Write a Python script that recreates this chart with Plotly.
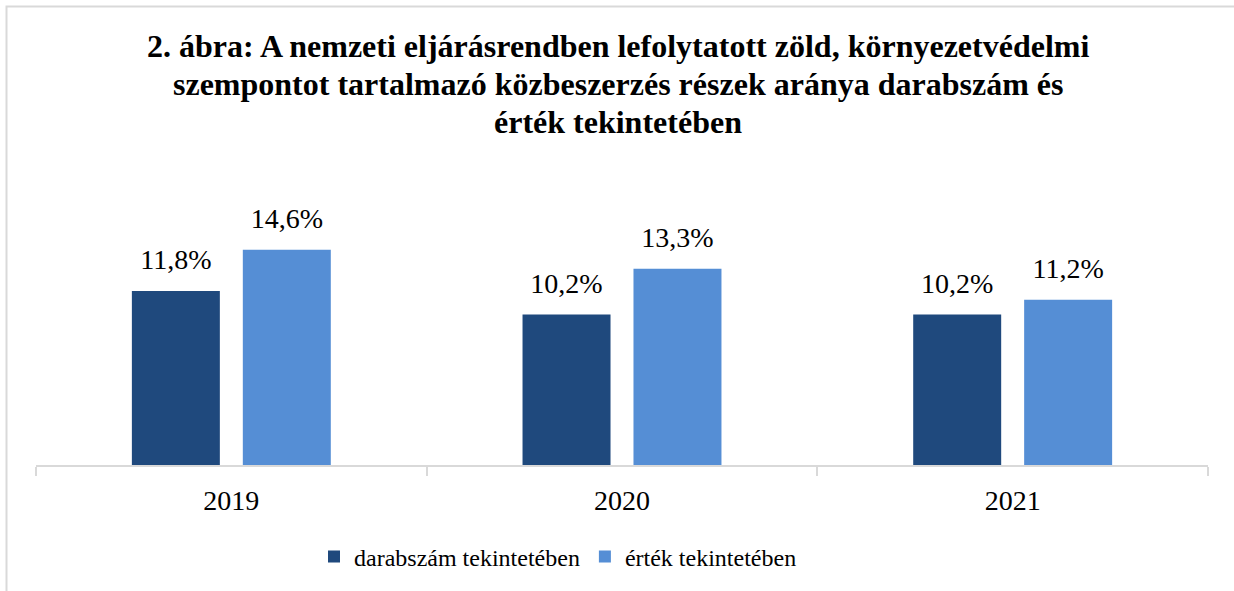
import plotly.graph_objects as go

years = ["2019", "2020", "2021"]
darab = [11.8, 10.2, 10.2]
ertek = [14.6, 13.3, 11.2]
series_names = ["darabszám tekintetében", "érték tekintetében"]
colors = ["#1F497D", "#558ED5"]
title_lines = [
    "2. ábra: A nemzeti eljárásrendben lefolytatott zöld, környezetvédelmi",
    "szempontot tartalmazó közbeszerzés részek aránya darabszám és",
    "érték tekintetében",
]

FONT = "Liberation Serif, Times New Roman, serif"
L, R, T, B = 36, 26, 229, 126
W, H = 1234, 591
pw, ph = W - L - R, H - T - B
GAP = 0.432


def lab(vals):
    return [f"{v:.1f}%".replace(".", ",") for v in vals]


fig = go.Figure()
for name, vals, col in zip(series_names, [darab, ertek], colors):
    fig.add_trace(go.Bar(x=years, y=vals, name=name, marker_color=col, marker_line_width=0,
                         offsetgroup=name, hoverinfo="skip"))
for name, vals in zip(series_names, [darab, ertek]):
    fig.add_trace(go.Scatter(x=years, y=vals, mode="markers+text", text=lab(vals),
                             textposition="top center", offsetgroup=name, showlegend=False,
                             marker=dict(size=22, opacity=0), cliponaxis=False, hoverinfo="skip",
                             textfont=dict(family=FONT, size=28, color="black")))

ann = []
for i, line in enumerate(title_lines):
    ypix = 46 + 38 * i
    ann.append(dict(text=f"<b>{line}</b>", xref="paper", yref="paper",
                    x=(618 - L) / pw, y=(H - B - ypix) / ph, xanchor="center", yanchor="middle",
                    showarrow=False, font=dict(family=FONT, size=32, color="black")))

fig.update_layout(
    width=W, height=H,
    margin=dict(l=L, r=R, t=T, b=B),
    paper_bgcolor="white", plot_bgcolor="white",
    barmode="group", bargap=GAP, bargroupgap=0.207,
    scattermode="group", scattergap=GAP,
    font=dict(family=FONT, size=26, color="black"),
    annotations=ann,
    showlegend=True,
    legend=dict(orientation="h", x=(558 - L) / pw, xanchor="center", y=(H - B - 557) / ph, yanchor="middle",
                font=dict(family=FONT, size=24, color="black"), itemwidth=30, traceorder="normal"),
    xaxis=dict(showline=True, linecolor="#D9D9D9", linewidth=2, ticks="outside", tickson="boundaries",
               ticklen=9, tickcolor="#D9D9D9", tickwidth=2, showgrid=False, ticklabelstandoff=9,
               tickfont=dict(family=FONT, size=28, color="black")),
    yaxis=dict(range=[0, 16], visible=False, showgrid=False, zeroline=False),
    shapes=[dict(type="rect", xref="paper", yref="paper",
                 x0=(6.5 - L) / pw, x1=1.2, y0=-2, y1=(H - B - 6.5) / ph,
                 line=dict(color="#D9D9D9", width=2), fillcolor="rgba(0,0,0,0)", layer="below")],
)

fig.write_html("out.html", config={"displayModeBar": False},
               post_script="document.body.style.margin='0';document.body.style.padding='0';")
